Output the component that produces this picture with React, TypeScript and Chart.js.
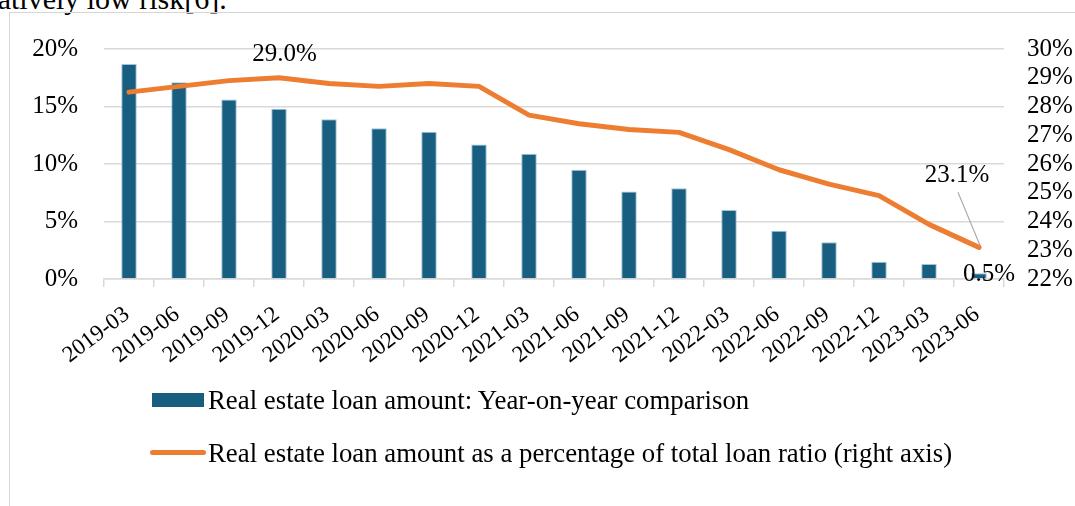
import React, { useEffect, useRef } from 'react';
import { Chart, registerables } from 'chart.js';

Chart.register(...registerables);

const categories = [
  '2019-03', '2019-06', '2019-09', '2019-12',
  '2020-03', '2020-06', '2020-09', '2020-12',
  '2021-03', '2021-06', '2021-09', '2021-12',
  '2022-03', '2022-06', '2022-09', '2022-12',
  '2023-03', '2023-06',
];

const loanYoY = [18.7, 17.1, 15.6, 14.8, 13.9, 13.1, 12.8, 11.7, 10.9, 9.5, 7.6, 7.9, 6.0, 4.2, 3.2, 1.5, 1.3, 0.5];

const loanShare = [28.5, 28.7, 28.9, 29.0, 28.8, 28.7, 28.8, 28.7, 27.7, 27.4, 27.2, 27.1, 26.5, 25.8, 25.3, 24.9, 23.9, 23.1];

const leftTicks = [0, 5, 10, 15, 20];
const rightTicks = [22, 23, 24, 25, 26, 27, 28, 29, 30];

const seriesBarName = 'Real estate loan amount: Year-on-year comparison';
const seriesLineName = 'Real estate loan amount as a percentage of total loan ratio (right axis)';
const docText = 'relatively low risk[6].';

const BAR_COLOR = '#175E80';
const LINE_COLOR = '#ED7D31';
const GRID_COLOR = '#d9d9d9';
const FONT = "'Liberation Serif', 'Times New Roman', serif";

const labelPlugin = {
  id: 'valueLabels',
  afterDatasetsDraw(chart: any) {
    const ctx = chart.ctx;
    const barMeta = chart.getDatasetMeta(0);
    const lineMeta = chart.getDatasetMeta(1);
    ctx.save();
    ctx.font = `25px ${FONT}`;
    ctx.fillStyle = '#000';
    ctx.textAlign = 'center';
    ctx.textBaseline = 'alphabetic';

    // maximum of the share line
    const maxIdx = loanShare.indexOf(Math.max(...loanShare));
    const pMax = lineMeta.data[maxIdx];
    ctx.fillText(loanShare[maxIdx].toFixed(1) + '%', pMax.x + 5.5, pMax.y - 17);

    // last point of the share line, with leader line
    const lastIdx = loanShare.length - 1;
    const pLast = lineMeta.data[lastIdx];
    ctx.strokeStyle = '#a6a6a6';
    ctx.lineWidth = 1.2;
    ctx.beginPath();
    ctx.moveTo(pLast.x - 21, pLast.y - 55);
    ctx.lineTo(pLast.x + 1, pLast.y - 2);
    ctx.stroke();
    ctx.fillText(loanShare[lastIdx].toFixed(1) + '%', pLast.x - 22, pLast.y - 65);

    // last bar
    const bLast = barMeta.data[loanYoY.length - 1];
    ctx.fillText(loanYoY[loanYoY.length - 1].toFixed(1) + '%', bLast.x + 10, bLast.y + 7.5);
    ctx.restore();
  },
};

function ChartView() {
  const ref = useRef<HTMLCanvasElement | null>(null);
  useEffect(() => {
    if (!ref.current) return;
    const tickFont = { family: FONT, size: 25 };
    const chart = new Chart(ref.current, {
      type: 'bar',
      data: {
        labels: categories,
        datasets: [
          {
            type: 'bar',
            label: seriesBarName,
            data: loanYoY,
            backgroundColor: BAR_COLOR,
            borderColor: 'rgba(140,180,205,0.8)',
            borderWidth: 1,
            yAxisID: 'y',
            categoryPercentage: 1,
            barPercentage: 0.31,
            order: 2,
          } as any,
          {
            type: 'line',
            label: seriesLineName,
            data: loanShare,
            borderColor: LINE_COLOR,
            backgroundColor: LINE_COLOR,
            borderWidth: 5,
            pointRadius: 0,
            tension: 0,
            borderJoinStyle: 'round',
            borderCapStyle: 'round',
            yAxisID: 'y1',
            order: 1,
          } as any,
        ],
      },
      options: {
        animation: false,
        responsive: true,
        maintainAspectRatio: false,
        layout: { padding: { top: 49, left: 0, right: 0, bottom: 0 } },
        plugins: {
          legend: { display: false },
          tooltip: { enabled: false },
        },
        scales: {
          x: {
            offset: true,
            grid: {
              offset: true,
              drawOnChartArea: false,
              drawTicks: true,
              tickLength: 8,
              color: GRID_COLOR,
              lineWidth: 1.5,
            },
            border: { display: true, color: GRID_COLOR, width: 1.5 },
            ticks: {
              autoSkip: false,
              minRotation: 37,
              maxRotation: 37,
              padding: 14,
              labelOffset: -2,
              font: { family: FONT, size: 23 },
              color: '#000',
            },
            afterFit: (s: any) => { s.height = 227; },
          },
          y: {
            position: 'left',
            min: 0,
            max: 20,
            afterBuildTicks: (s: any) => { s.ticks = leftTicks.map((v) => ({ value: v })); },
            grid: { color: GRID_COLOR, lineWidth: 1.5, drawTicks: false },
            border: { display: false },
            ticks: {
              autoSkip: false,
              padding: 26,
              font: tickFont,
              color: '#000',
              callback: (v: any) => v + '%',
            },
            afterFit: (s: any) => { s.width = 104; },
          },
          y1: {
            position: 'right',
            min: 22,
            max: 30,
            afterBuildTicks: (s: any) => { s.ticks = rightTicks.map((v) => ({ value: v })); },
            grid: { display: false, drawTicks: false, drawOnChartArea: false },
            border: { display: false },
            ticks: {
              autoSkip: false,
              padding: 23,
              font: tickFont,
              color: '#000',
              callback: (v: any) => v + '%',
            },
            afterFit: (s: any) => { s.width = 71; },
          },
        },
      } as any,
      plugins: [labelPlugin],
    });
    return () => chart.destroy();
  }, []);
  return <canvas ref={ref} />;
}

export default function App() {
  return (
    <div style={{ position: 'fixed', left: 0, top: 0, width: 1075, height: 506, overflow: 'hidden', background: '#fff' }}>
      <div
        style={{
          position: 'absolute', left: -34, top: -16, fontFamily: FONT, fontSize: 30,
          lineHeight: '30px', whiteSpace: 'nowrap', color: '#000',
        }}
      >
        {docText}
      </div>
      <div
        style={{
          position: 'absolute', left: 9, top: 12, width: 1120, height: 600,
          borderLeft: '1.5px solid #d6d6d6', borderTop: '1.5px solid #d6d6d6',
        }}
      />
      <div style={{ position: 'absolute', left: 0, top: 0, width: 1075, height: 506 }}>
        <ChartView />
      </div>
      <div style={{ position: 'absolute', left: 152, top: 393, width: 52, height: 14, background: BAR_COLOR }} />
      <div
        style={{
          position: 'absolute', left: 208, top: 385, fontFamily: FONT, fontSize: 26.8,
          lineHeight: '30px', whiteSpace: 'nowrap', color: '#000',
        }}
      >
        {seriesBarName}
      </div>
      <div
        style={{
          position: 'absolute', left: 150, top: 449.5, width: 56, height: 5,
          borderRadius: 2.5, background: LINE_COLOR,
        }}
      />
      <div
        style={{
          position: 'absolute', left: 208, top: 437.6, fontFamily: FONT, fontSize: 26.8,
          lineHeight: '30px', whiteSpace: 'nowrap', color: '#000',
        }}
      >
        {seriesLineName}
      </div>
    </div>
  );
}
